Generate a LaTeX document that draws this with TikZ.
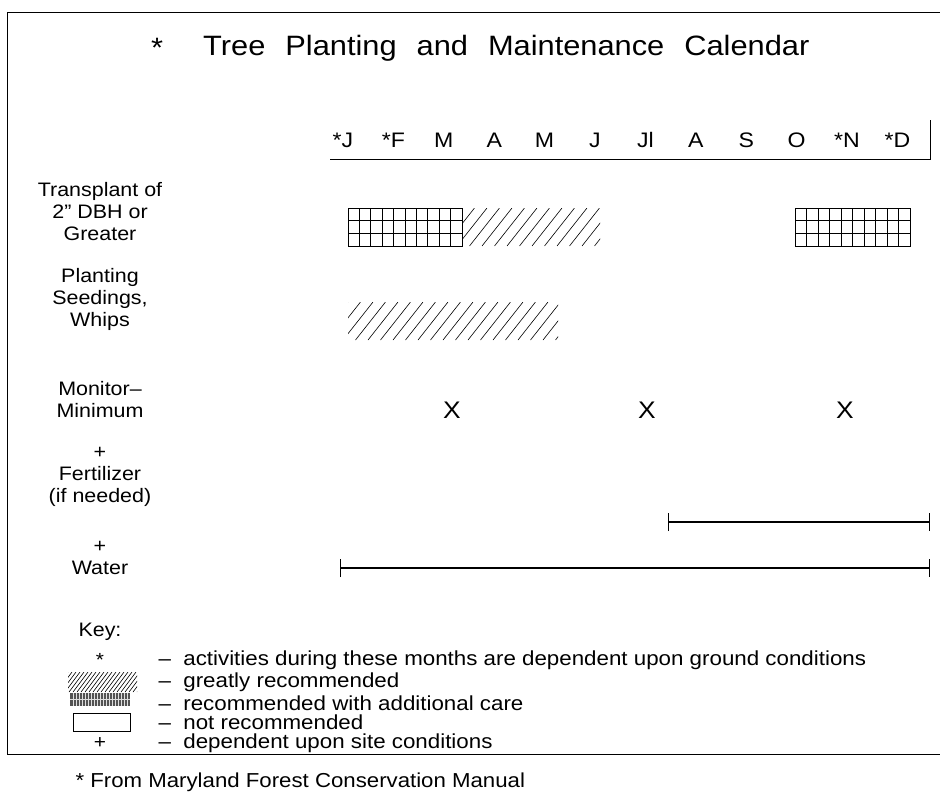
\documentclass[tikz,border=0pt]{standalone}
\usepackage{fontspec}
\setmainfont{Liberation Sans}[FakeStretch=1.1]
\usetikzlibrary{arrows.meta}

% grid bar: x1,y1,x2,y2
\newcommand{\gridbar}[4]{%
  \draw[thick] (#1,#2) rectangle (#3,#4);
  \foreach \gx in {1,...,9} \draw[thick] ({#1+\gx*(#3-#1)/10},#2) -- ({#1+\gx*(#3-#1)/10},#4);
  \foreach \gy in {1,2} \draw ({#1},{#2+\gy*(#4-#2)/3}) -- (#3,{#2+\gy*(#4-#2)/3});
}
% hatched bar: x1,y1,x2,y2,spacing
\newcommand{\hatchbar}[5]{%
  \begin{scope}
    \clip (#1,#2) rectangle (#3,#4);
    \foreach \hx in {0,#5,...,260} \draw[semithick] ({#1+\hx-30},#4) -- ({#1+\hx},#2);
  \end{scope}
}

\tikzset{
  rowtext/.style={align=center,font=\fontsize{19.5}{22}\selectfont},
  month/.style={font=\fontsize{21}{22}\selectfont},
  keytext/.style={anchor=west,font=\fontsize{20.3}{22}\selectfont},
  span/.style={line width=1.3pt,{Bar[width=18pt,line width=1.3pt]}-{Bar[width=18pt,line width=1.3pt]}},
}

\begin{document}
\begin{tikzpicture}[x=1pt,y=-1pt]
    \useasboundingbox (0,0) rectangle (940,798);
    % frame
    \draw[thick] (940,12) -- (7,12) -- (7,754) -- (940,754);
    % title
    \node[font=\fontsize{28}{30}\selectfont] (ttlstar) at (157,48) {*};
    \node[font=\fontsize{28}{30}\selectfont,anchor=west,inner sep=0pt] (ttl) at (203,48)
        {Tree\hspace{20pt}Planting\hspace{20pt}and\hspace{20pt}Maintenance\hspace{20pt}Calendar};
    % the months
    \foreach \m [count=\i] in {*J,*F,M,A,M,J,Jl,A,S,O,*N,*D}
        \node[month] (m\i) at ({343+50.4*(\i-1)},140) {\m};
    \coordinate (axl) at (330,159);
    \coordinate (axr) at (930,159);
    \coordinate (axt) at (930,120);
    \draw[thick] (axl) -- (axr) -- (axt);
    % row labels
    \node[rowtext] (transplant) at (100,212) {Transplant of\\2'' DBH or\\Greater};
    \node[rowtext] (seedings) at (100,299) {Planting\\Seedings,\\Whips};
    \node[rowtext] (monitor) at (100,400) {Monitor--\\Minimum};
    \node[rowtext] (fertilizer) at (100,477) {+\\Fertilizer\\(if needed)};
    \node[rowtext] (water) at (100,558) {+\\Water};
    % transplant bars
    \gridbar{348}{208}{462}{246}
    \hatchbar{462}{208}{600}{246}{12.5}
    \gridbar{795}{208}{910}{246}
    % seedings bar
    \hatchbar{348}{302}{558}{340}{12.5}
    % monitor marks
    \foreach \xm [count=\i] in {452,647,845}
        \node[font=\fontsize{24}{26}\selectfont] (x\i) at (\xm,410) {X};
    % fertilizer and water spans
    \coordinate (fertA) at (668,522);
    \coordinate (fertB) at (930,522);
    \draw[span] (fertA) -- (fertB);
    \coordinate (waterA) at (340,568);
    \coordinate (waterB) at (930,568);
    \draw[span] (waterA) -- (waterB);
    % the key
    \node[rowtext] (key) at (100,632) {Key:};
    \node[font=\fontsize{19}{20}\selectfont] (kstar) at (100,660) {*};
    \begin{scope}
        \clip (68,672) rectangle (137,692);
        \foreach \hx in {0,4,...,90} \draw[semithick] ({68+\hx-15},692) -- ({68+\hx},672);
    \end{scope}
    \fill[gray!65!black] (70,693) rectangle (130,706);
    \foreach \gx in {73,76,...,128} \draw[gray!25,very thin] (\gx,693) -- (\gx,706);
    \draw[gray!25,very thin] (70,699.5) -- (130,699.5);
    \draw[thick] (73,713) rectangle (130,731);
    \node[font=\fontsize{19}{20}\selectfont] (kplus) at (100,743) {+};
    \node[keytext] (k1) at (155,660) {--\ \ activities during these months are dependent upon ground conditions};
    \node[keytext] (k2) at (155,682) {--\ \ greatly recommended};
    \node[keytext] (k3) at (155,703) {--\ \ recommended with additional care};
    \node[keytext] (k4) at (155,722) {--\ \ not recommended};
    \node[keytext] (k5) at (155,743) {--\ \ dependent upon site conditions};
    % source
    \node[anchor=west,font=\fontsize{20.2}{22}\selectfont] (source) at (72,782) {* From Maryland Forest Conservation Manual};
\end{tikzpicture}
\end{document}
